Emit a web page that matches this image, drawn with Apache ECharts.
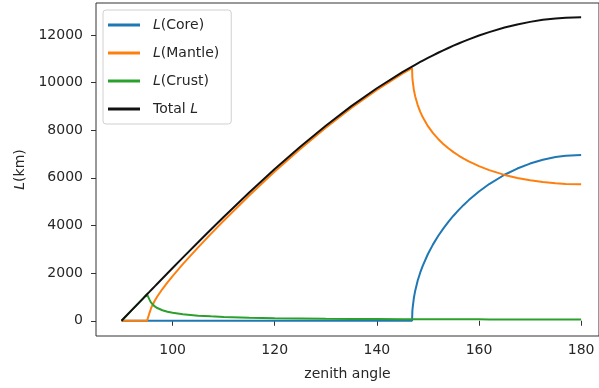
<!DOCTYPE html>
<html>
<head>
<meta charset="utf-8">
<script src="https://cdn.jsdelivr.net/npm/echarts@6/dist/echarts.min.js"></script>
<style>html,body{margin:0;padding:0;background:#fff;}#c{width:599px;height:388px;}</style>
</head>
<body>
<div id="c"></div>
<script>
// zenith angle (deg)
const angles = [90, 92, 94, 95, 95.28, 95.5, 95.75, 96, 96.5, 97, 98, 99, 100, 102, 105, 107.5, 110, 115, 120, 125, 130, 135, 140, 145, 146.89, 146.95, 147, 147.25, 147.5, 148, 148.5, 149, 150, 151, 152, 153, 154, 155, 156, 157, 158, 160, 162, 165, 167.5, 170, 172.5, 175, 177, 180];
// path lengths (km)
const coreL   = [0,0,0,0,0,0,0,0,0,0,0,0,0,0,0,0,0,0,0,0,0,0,0,0,0, 389, 530, 963, 1253, 1688, 2029, 2318, 2802, 3206, 3558, 3870, 4152, 4409, 4646, 4864, 5065, 5427, 5739, 6129, 6390, 6599, 6758, 6871, 6928, 6960];
const mantleL = [0,0,0,0,0, 344, 506, 633, 841, 1019, 1331, 1613, 1877, 2376, 3083, 3648, 4198, 5256, 6262, 7214, 8106, 8933, 9690, 10372, 10609, 10227, 10092, 9689, 9429, 9054, 8772, 8541, 8170, 7876, 7632, 7423, 7240, 7079, 6936, 6807, 6691, 6489, 6323, 6123, 5995, 5895, 5821, 5769, 5742, 5728];
const crustL  = [0, 445, 889, 1111, 1172, 877, 770, 699, 601, 534, 442, 381, 336, 273, 215, 184, 160, 129, 109, 95, 84, 77, 71, 66, 64, 64, 64, 64, 64, 64, 63, 63, 62, 62, 61, 60, 60, 60, 59, 59, 58, 58, 57, 56, 55, 55, 54, 55, 54, 54];
const totalL  = [0, 445, 889, 1111, 1172, 1221, 1277, 1332, 1442, 1553, 1773, 1993, 2213, 2649, 3298, 3832, 4358, 5385, 6371, 7309, 8190, 9010, 9761, 10438, 10673, 10680, 10686, 10717, 10747, 10806, 10864, 10922, 11035, 11144, 11251, 11353, 11452, 11548, 11640, 11729, 11814, 11974, 12118, 12308, 12440, 12548, 12633, 12694, 12725, 12742];
const xTicks = [100, 120, 140, 160, 180];
const yTicks = [0, 2000, 4000, 6000, 8000, 10000, 12000];

const pairs = ys => angles.map((a, i) => [a, ys[i]]);
const font = 'DejaVu Sans';
const txt = '#262626';
const fs = 14;
const chart = echarts.init(document.getElementById('c'), null, {renderer: 'canvas'});
const mk = (name, ys, color) => ({
  name, type: 'line', data: pairs(ys), showSymbol: false, symbol: 'none',
  lineStyle: {width: 2, color}, itemStyle: {color}, animation: false
});
chart.setOption({
  animation: false,
  grid: {left: 96, right: -2, top: 3, bottom: 52, show: true, borderColor: '#333', borderWidth: 1, backgroundColor: 'transparent'},
  xAxis: {
    type: 'value', min: 85, max: 183.5,
    name: 'zenith angle', nameLocation: 'middle', nameGap: 31,
    nameTextStyle: {fontFamily: font, fontSize: fs, color: txt},
    axisLine: {show: false},
    axisTick: {show: true, length: 5, lineStyle: {color: '#333'}, customValues: xTicks},
    axisLabel: {fontFamily: font, fontSize: fs, color: txt, margin: 7, customValues: xTicks, formatter: v => String(v)},
    splitLine: {show: false}
  },
  yAxis: {
    type: 'value', min: -640, max: 13340,
    name: '{i|L}(km)', nameLocation: 'middle', nameGap: 68,
    nameTextStyle: {fontFamily: font, fontSize: fs, color: txt, rich: {i: {fontFamily: font, fontSize: fs, fontStyle: 'italic', color: txt}}},
    axisLine: {show: false},
    axisTick: {show: true, length: 5, lineStyle: {color: '#333'}, customValues: yTicks},
    axisLabel: {fontFamily: font, fontSize: fs, color: txt, margin: 13, customValues: yTicks, formatter: v => String(v)},
    splitLine: {show: false}
  },
  legend: {
    orient: 'vertical', left: 103, top: 10,
    backgroundColor: 'rgba(255,255,255,0.8)', borderColor: '#d0d0d0', borderWidth: 1, borderRadius: 3,
    padding: [7, 12, 7, 5], itemGap: 12, itemWidth: 32, itemHeight: 3, icon: 'rect',
    data: ['L(Core)', 'L(Mantle)', 'L(Crust)', 'Total L'],
    formatter: n => n === 'Total L' ? 'Total {i|L}' : '{i|L}' + n.slice(1),
    textStyle: {fontFamily: font, fontSize: fs, color: txt, lineHeight: 16, padding: [0, 0, 0, 8],
      rich: {i: {fontFamily: font, fontSize: fs, fontStyle: 'italic', color: txt, lineHeight: 16}}}
  },
  series: [
    mk('L(Core)', coreL, '#1f77b4'),
    mk('L(Mantle)', mantleL, '#ff7f0e'),
    mk('L(Crust)', crustL, '#2ca02c'),
    mk('Total L', totalL, '#111111')
  ]
});
</script>
</body>
</html>
